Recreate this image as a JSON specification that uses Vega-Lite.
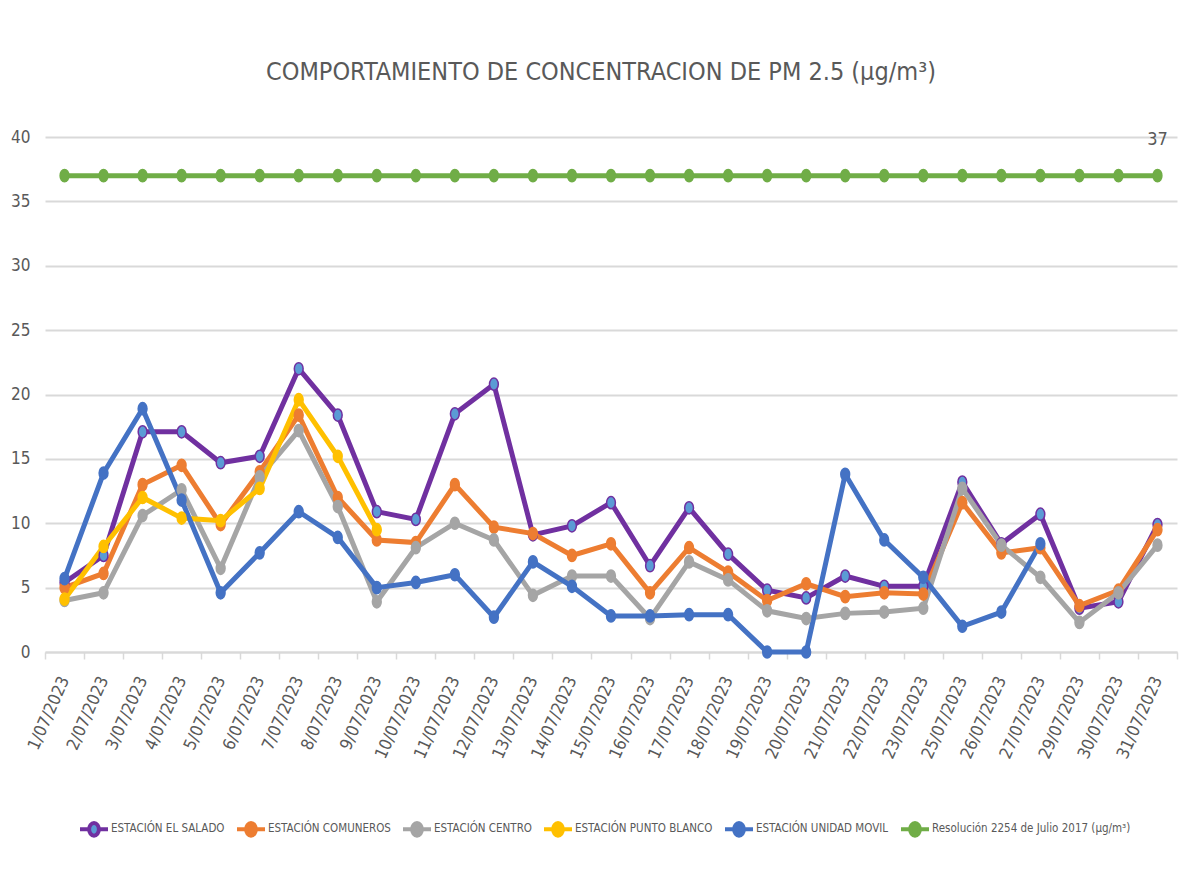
{
  "$schema": "https://vega.github.io/schema/vega-lite/v6.json",
  "width": 1132,
  "height": 515,
  "autosize": {"type": "none"},
  "padding": {"left": 45, "top": 137, "right": 13, "bottom": 227},
  "background": "white",
  "title": {
    "text": "COMPORTAMIENTO DE CONCENTRACION DE PM 2.5 (µg/m³)",
    "font": "Liberation Sans Narrow, DejaVu Sans Condensed, sans-serif",
    "fontSize": 25,
    "fontWeight": "normal",
    "color": "#595959",
    "anchor": "middle",
    "dx": -10,
    "offset": 43
  },
  "config": {
    "view": {"stroke": null},
    "font": "Liberation Sans Narrow, DejaVu Sans Condensed, sans-serif"
  },
  "data": {
    "values": [
      {"fecha": "1/07/2023", "serie": "ESTACIÓN EL SALADO", "valor": 5.4},
      {"fecha": "2/07/2023", "serie": "ESTACIÓN EL SALADO", "valor": 7.5},
      {"fecha": "3/07/2023", "serie": "ESTACIÓN EL SALADO", "valor": 17.1},
      {"fecha": "4/07/2023", "serie": "ESTACIÓN EL SALADO", "valor": 17.1},
      {"fecha": "5/07/2023", "serie": "ESTACIÓN EL SALADO", "valor": 14.7},
      {"fecha": "6/07/2023", "serie": "ESTACIÓN EL SALADO", "valor": 15.2},
      {"fecha": "7/07/2023", "serie": "ESTACIÓN EL SALADO", "valor": 22.0},
      {"fecha": "8/07/2023", "serie": "ESTACIÓN EL SALADO", "valor": 18.4},
      {"fecha": "9/07/2023", "serie": "ESTACIÓN EL SALADO", "valor": 10.9},
      {"fecha": "10/07/2023", "serie": "ESTACIÓN EL SALADO", "valor": 10.3},
      {"fecha": "11/07/2023", "serie": "ESTACIÓN EL SALADO", "valor": 18.5},
      {"fecha": "12/07/2023", "serie": "ESTACIÓN EL SALADO", "valor": 20.8},
      {"fecha": "13/07/2023", "serie": "ESTACIÓN EL SALADO", "valor": 9.1},
      {"fecha": "14/07/2023", "serie": "ESTACIÓN EL SALADO", "valor": 9.8},
      {"fecha": "15/07/2023", "serie": "ESTACIÓN EL SALADO", "valor": 11.6},
      {"fecha": "16/07/2023", "serie": "ESTACIÓN EL SALADO", "valor": 6.7},
      {"fecha": "17/07/2023", "serie": "ESTACIÓN EL SALADO", "valor": 11.2},
      {"fecha": "18/07/2023", "serie": "ESTACIÓN EL SALADO", "valor": 7.6},
      {"fecha": "19/07/2023", "serie": "ESTACIÓN EL SALADO", "valor": 4.8},
      {"fecha": "20/07/2023", "serie": "ESTACIÓN EL SALADO", "valor": 4.2},
      {"fecha": "21/07/2023", "serie": "ESTACIÓN EL SALADO", "valor": 5.9},
      {"fecha": "22/07/2023", "serie": "ESTACIÓN EL SALADO", "valor": 5.1},
      {"fecha": "23/07/2023", "serie": "ESTACIÓN EL SALADO", "valor": 5.1},
      {"fecha": "25/07/2023", "serie": "ESTACIÓN EL SALADO", "valor": 13.2},
      {"fecha": "26/07/2023", "serie": "ESTACIÓN EL SALADO", "valor": 8.4},
      {"fecha": "27/07/2023", "serie": "ESTACIÓN EL SALADO", "valor": 10.7},
      {"fecha": "29/07/2023", "serie": "ESTACIÓN EL SALADO", "valor": 3.4},
      {"fecha": "30/07/2023", "serie": "ESTACIÓN EL SALADO", "valor": 3.9},
      {"fecha": "31/07/2023", "serie": "ESTACIÓN EL SALADO", "valor": 9.9},

      {"fecha": "1/07/2023", "serie": "ESTACIÓN COMUNEROS", "valor": 5.0},
      {"fecha": "2/07/2023", "serie": "ESTACIÓN COMUNEROS", "valor": 6.1},
      {"fecha": "3/07/2023", "serie": "ESTACIÓN COMUNEROS", "valor": 13.0},
      {"fecha": "4/07/2023", "serie": "ESTACIÓN COMUNEROS", "valor": 14.5},
      {"fecha": "5/07/2023", "serie": "ESTACIÓN COMUNEROS", "valor": 9.9},
      {"fecha": "6/07/2023", "serie": "ESTACIÓN COMUNEROS", "valor": 14.0},
      {"fecha": "7/07/2023", "serie": "ESTACIÓN COMUNEROS", "valor": 18.4},
      {"fecha": "8/07/2023", "serie": "ESTACIÓN COMUNEROS", "valor": 12.0},
      {"fecha": "9/07/2023", "serie": "ESTACIÓN COMUNEROS", "valor": 8.7},
      {"fecha": "10/07/2023", "serie": "ESTACIÓN COMUNEROS", "valor": 8.5},
      {"fecha": "11/07/2023", "serie": "ESTACIÓN COMUNEROS", "valor": 13.0},
      {"fecha": "12/07/2023", "serie": "ESTACIÓN COMUNEROS", "valor": 9.7},
      {"fecha": "13/07/2023", "serie": "ESTACIÓN COMUNEROS", "valor": 9.2},
      {"fecha": "14/07/2023", "serie": "ESTACIÓN COMUNEROS", "valor": 7.5},
      {"fecha": "15/07/2023", "serie": "ESTACIÓN COMUNEROS", "valor": 8.4},
      {"fecha": "16/07/2023", "serie": "ESTACIÓN COMUNEROS", "valor": 4.6},
      {"fecha": "17/07/2023", "serie": "ESTACIÓN COMUNEROS", "valor": 8.1},
      {"fecha": "18/07/2023", "serie": "ESTACIÓN COMUNEROS", "valor": 6.2},
      {"fecha": "19/07/2023", "serie": "ESTACIÓN COMUNEROS", "valor": 4.0},
      {"fecha": "20/07/2023", "serie": "ESTACIÓN COMUNEROS", "valor": 5.3},
      {"fecha": "21/07/2023", "serie": "ESTACIÓN COMUNEROS", "valor": 4.3},
      {"fecha": "22/07/2023", "serie": "ESTACIÓN COMUNEROS", "valor": 4.6},
      {"fecha": "23/07/2023", "serie": "ESTACIÓN COMUNEROS", "valor": 4.5},
      {"fecha": "25/07/2023", "serie": "ESTACIÓN COMUNEROS", "valor": 11.6},
      {"fecha": "26/07/2023", "serie": "ESTACIÓN COMUNEROS", "valor": 7.7},
      {"fecha": "27/07/2023", "serie": "ESTACIÓN COMUNEROS", "valor": 8.1},
      {"fecha": "29/07/2023", "serie": "ESTACIÓN COMUNEROS", "valor": 3.6},
      {"fecha": "30/07/2023", "serie": "ESTACIÓN COMUNEROS", "valor": 4.8},
      {"fecha": "31/07/2023", "serie": "ESTACIÓN COMUNEROS", "valor": 9.5},

      {"fecha": "1/07/2023", "serie": "ESTACIÓN CENTRO", "valor": 4.0},
      {"fecha": "2/07/2023", "serie": "ESTACIÓN CENTRO", "valor": 4.6},
      {"fecha": "3/07/2023", "serie": "ESTACIÓN CENTRO", "valor": 10.6},
      {"fecha": "4/07/2023", "serie": "ESTACIÓN CENTRO", "valor": 12.6},
      {"fecha": "5/07/2023", "serie": "ESTACIÓN CENTRO", "valor": 6.5},
      {"fecha": "6/07/2023", "serie": "ESTACIÓN CENTRO", "valor": 13.6},
      {"fecha": "7/07/2023", "serie": "ESTACIÓN CENTRO", "valor": 17.2},
      {"fecha": "8/07/2023", "serie": "ESTACIÓN CENTRO", "valor": 11.3},
      {"fecha": "9/07/2023", "serie": "ESTACIÓN CENTRO", "valor": 3.9},
      {"fecha": "10/07/2023", "serie": "ESTACIÓN CENTRO", "valor": 8.1},
      {"fecha": "11/07/2023", "serie": "ESTACIÓN CENTRO", "valor": 10.0},
      {"fecha": "12/07/2023", "serie": "ESTACIÓN CENTRO", "valor": 8.7},
      {"fecha": "13/07/2023", "serie": "ESTACIÓN CENTRO", "valor": 4.4},
      {"fecha": "14/07/2023", "serie": "ESTACIÓN CENTRO", "valor": 5.9},
      {"fecha": "15/07/2023", "serie": "ESTACIÓN CENTRO", "valor": 5.9},
      {"fecha": "16/07/2023", "serie": "ESTACIÓN CENTRO", "valor": 2.6},
      {"fecha": "17/07/2023", "serie": "ESTACIÓN CENTRO", "valor": 7.0},
      {"fecha": "18/07/2023", "serie": "ESTACIÓN CENTRO", "valor": 5.6},
      {"fecha": "19/07/2023", "serie": "ESTACIÓN CENTRO", "valor": 3.2},
      {"fecha": "20/07/2023", "serie": "ESTACIÓN CENTRO", "valor": 2.6},
      {"fecha": "21/07/2023", "serie": "ESTACIÓN CENTRO", "valor": 3.0},
      {"fecha": "22/07/2023", "serie": "ESTACIÓN CENTRO", "valor": 3.1},
      {"fecha": "23/07/2023", "serie": "ESTACIÓN CENTRO", "valor": 3.4},
      {"fecha": "25/07/2023", "serie": "ESTACIÓN CENTRO", "valor": 12.7},
      {"fecha": "26/07/2023", "serie": "ESTACIÓN CENTRO", "valor": 8.3},
      {"fecha": "27/07/2023", "serie": "ESTACIÓN CENTRO", "valor": 5.8},
      {"fecha": "29/07/2023", "serie": "ESTACIÓN CENTRO", "valor": 2.3},
      {"fecha": "30/07/2023", "serie": "ESTACIÓN CENTRO", "valor": 4.6},
      {"fecha": "31/07/2023", "serie": "ESTACIÓN CENTRO", "valor": 8.3},

      {"fecha": "1/07/2023", "serie": "ESTACIÓN PUNTO BLANCO", "valor": 4.1},
      {"fecha": "2/07/2023", "serie": "ESTACIÓN PUNTO BLANCO", "valor": 8.2},
      {"fecha": "3/07/2023", "serie": "ESTACIÓN PUNTO BLANCO", "valor": 12.0},
      {"fecha": "4/07/2023", "serie": "ESTACIÓN PUNTO BLANCO", "valor": 10.4},
      {"fecha": "5/07/2023", "serie": "ESTACIÓN PUNTO BLANCO", "valor": 10.2},
      {"fecha": "6/07/2023", "serie": "ESTACIÓN PUNTO BLANCO", "valor": 12.7},
      {"fecha": "7/07/2023", "serie": "ESTACIÓN PUNTO BLANCO", "valor": 19.6},
      {"fecha": "8/07/2023", "serie": "ESTACIÓN PUNTO BLANCO", "valor": 15.2},
      {"fecha": "9/07/2023", "serie": "ESTACIÓN PUNTO BLANCO", "valor": 9.5},

      {"fecha": "1/07/2023", "serie": "ESTACIÓN UNIDAD MOVIL", "valor": 5.7},
      {"fecha": "2/07/2023", "serie": "ESTACIÓN UNIDAD MOVIL", "valor": 13.9},
      {"fecha": "3/07/2023", "serie": "ESTACIÓN UNIDAD MOVIL", "valor": 18.9},
      {"fecha": "4/07/2023", "serie": "ESTACIÓN UNIDAD MOVIL", "valor": 11.8},
      {"fecha": "5/07/2023", "serie": "ESTACIÓN UNIDAD MOVIL", "valor": 4.6},
      {"fecha": "6/07/2023", "serie": "ESTACIÓN UNIDAD MOVIL", "valor": 7.7},
      {"fecha": "7/07/2023", "serie": "ESTACIÓN UNIDAD MOVIL", "valor": 10.9},
      {"fecha": "8/07/2023", "serie": "ESTACIÓN UNIDAD MOVIL", "valor": 8.9},
      {"fecha": "9/07/2023", "serie": "ESTACIÓN UNIDAD MOVIL", "valor": 5.0},
      {"fecha": "10/07/2023", "serie": "ESTACIÓN UNIDAD MOVIL", "valor": 5.4},
      {"fecha": "11/07/2023", "serie": "ESTACIÓN UNIDAD MOVIL", "valor": 6.0},
      {"fecha": "12/07/2023", "serie": "ESTACIÓN UNIDAD MOVIL", "valor": 2.7},
      {"fecha": "13/07/2023", "serie": "ESTACIÓN UNIDAD MOVIL", "valor": 7.0},
      {"fecha": "14/07/2023", "serie": "ESTACIÓN UNIDAD MOVIL", "valor": 5.1},
      {"fecha": "15/07/2023", "serie": "ESTACIÓN UNIDAD MOVIL", "valor": 2.8},
      {"fecha": "16/07/2023", "serie": "ESTACIÓN UNIDAD MOVIL", "valor": 2.8},
      {"fecha": "17/07/2023", "serie": "ESTACIÓN UNIDAD MOVIL", "valor": 2.9},
      {"fecha": "18/07/2023", "serie": "ESTACIÓN UNIDAD MOVIL", "valor": 2.9},
      {"fecha": "19/07/2023", "serie": "ESTACIÓN UNIDAD MOVIL", "valor": 0.0},
      {"fecha": "20/07/2023", "serie": "ESTACIÓN UNIDAD MOVIL", "valor": 0.0},
      {"fecha": "21/07/2023", "serie": "ESTACIÓN UNIDAD MOVIL", "valor": 13.8},
      {"fecha": "22/07/2023", "serie": "ESTACIÓN UNIDAD MOVIL", "valor": 8.7},
      {"fecha": "23/07/2023", "serie": "ESTACIÓN UNIDAD MOVIL", "valor": 5.8},
      {"fecha": "25/07/2023", "serie": "ESTACIÓN UNIDAD MOVIL", "valor": 2.0},
      {"fecha": "26/07/2023", "serie": "ESTACIÓN UNIDAD MOVIL", "valor": 3.1},
      {"fecha": "27/07/2023", "serie": "ESTACIÓN UNIDAD MOVIL", "valor": 8.4},

      {"fecha": "1/07/2023", "serie": "Resolución 2254 de Julio 2017 (µg/m³)", "valor": 37},
      {"fecha": "2/07/2023", "serie": "Resolución 2254 de Julio 2017 (µg/m³)", "valor": 37},
      {"fecha": "3/07/2023", "serie": "Resolución 2254 de Julio 2017 (µg/m³)", "valor": 37},
      {"fecha": "4/07/2023", "serie": "Resolución 2254 de Julio 2017 (µg/m³)", "valor": 37},
      {"fecha": "5/07/2023", "serie": "Resolución 2254 de Julio 2017 (µg/m³)", "valor": 37},
      {"fecha": "6/07/2023", "serie": "Resolución 2254 de Julio 2017 (µg/m³)", "valor": 37},
      {"fecha": "7/07/2023", "serie": "Resolución 2254 de Julio 2017 (µg/m³)", "valor": 37},
      {"fecha": "8/07/2023", "serie": "Resolución 2254 de Julio 2017 (µg/m³)", "valor": 37},
      {"fecha": "9/07/2023", "serie": "Resolución 2254 de Julio 2017 (µg/m³)", "valor": 37},
      {"fecha": "10/07/2023", "serie": "Resolución 2254 de Julio 2017 (µg/m³)", "valor": 37},
      {"fecha": "11/07/2023", "serie": "Resolución 2254 de Julio 2017 (µg/m³)", "valor": 37},
      {"fecha": "12/07/2023", "serie": "Resolución 2254 de Julio 2017 (µg/m³)", "valor": 37},
      {"fecha": "13/07/2023", "serie": "Resolución 2254 de Julio 2017 (µg/m³)", "valor": 37},
      {"fecha": "14/07/2023", "serie": "Resolución 2254 de Julio 2017 (µg/m³)", "valor": 37},
      {"fecha": "15/07/2023", "serie": "Resolución 2254 de Julio 2017 (µg/m³)", "valor": 37},
      {"fecha": "16/07/2023", "serie": "Resolución 2254 de Julio 2017 (µg/m³)", "valor": 37},
      {"fecha": "17/07/2023", "serie": "Resolución 2254 de Julio 2017 (µg/m³)", "valor": 37},
      {"fecha": "18/07/2023", "serie": "Resolución 2254 de Julio 2017 (µg/m³)", "valor": 37},
      {"fecha": "19/07/2023", "serie": "Resolución 2254 de Julio 2017 (µg/m³)", "valor": 37},
      {"fecha": "20/07/2023", "serie": "Resolución 2254 de Julio 2017 (µg/m³)", "valor": 37},
      {"fecha": "21/07/2023", "serie": "Resolución 2254 de Julio 2017 (µg/m³)", "valor": 37},
      {"fecha": "22/07/2023", "serie": "Resolución 2254 de Julio 2017 (µg/m³)", "valor": 37},
      {"fecha": "23/07/2023", "serie": "Resolución 2254 de Julio 2017 (µg/m³)", "valor": 37},
      {"fecha": "25/07/2023", "serie": "Resolución 2254 de Julio 2017 (µg/m³)", "valor": 37},
      {"fecha": "26/07/2023", "serie": "Resolución 2254 de Julio 2017 (µg/m³)", "valor": 37},
      {"fecha": "27/07/2023", "serie": "Resolución 2254 de Julio 2017 (µg/m³)", "valor": 37},
      {"fecha": "29/07/2023", "serie": "Resolución 2254 de Julio 2017 (µg/m³)", "valor": 37},
      {"fecha": "30/07/2023", "serie": "Resolución 2254 de Julio 2017 (µg/m³)", "valor": 37},
      {"fecha": "31/07/2023", "serie": "Resolución 2254 de Julio 2017 (µg/m³)", "valor": 37}
    ]
  },
  "encoding": {
    "x": {
      "field": "fecha",
      "type": "ordinal",
      "sort": null,
      "scale": {"type": "band", "paddingInner": 0, "paddingOuter": 0},
      "axis": {
        "title": null,
        "grid": false,
        "tickBand": "extent",
        "tickSize": 7,
        "tickColor": "#d9d9d9",
        "tickWidth": 1.5,
        "domainColor": "#d9d9d9",
        "domainWidth": 2,
        "labelAngle": -66,
        "labelAlign": "right",
        "labelBaseline": "middle",
        "labelFontSize": 17,
        "labelColor": "#595959",
        "labelPadding": 18
      }
    },
    "y": {
      "field": "valor",
      "type": "quantitative",
      "scale": {"domain": [0, 40], "nice": false},
      "axis": {
        "title": null,
        "values": [0, 5, 10, 15, 20, 25, 30, 35, 40],
        "domain": false,
        "ticks": false,
        "gridColor": "#d9d9d9",
        "gridWidth": 2,
        "labelFontSize": 17,
        "labelColor": "#595959",
        "labelPadding": 15
      }
    }
  },
  "layer": [
    {
      "mark": {"type": "line", "strokeWidth": 5},
      "encoding": {
        "stroke": {
          "field": "serie",
          "type": "nominal",
          "scale": {
            "domain": ["ESTACIÓN EL SALADO", "ESTACIÓN COMUNEROS", "ESTACIÓN CENTRO", "ESTACIÓN PUNTO BLANCO", "ESTACIÓN UNIDAD MOVIL", "Resolución 2254 de Julio 2017 (µg/m³)"],
            "range": ["#7030A0", "#ED7D31", "#A5A5A5", "#FFC000", "#4472C4", "#70AD47"]
          },
          "legend": {
            "title": null,
            "orient": "none",
            "legendX": 33,
            "legendY": 676,
            "direction": "horizontal",
            "symbolType": "M-1,0L-0.35,0M0.35,0L1,0M0.35,0A0.35,0.45 0 1 1 -0.35,0A0.35,0.45 0 1 1 0.35,0Z",
            "symbolSize": 784,
            "symbolStrokeWidth": 4,
            "labelFontSize": 11.5,
            "labelLimit": 0,
            "labelColor": "#595959",
            "labelOffset": 1,
            "columnPadding": 4
          }
        }
      }
    },
    {
      "mark": {"type": "point", "filled": true, "opacity": 1, "strokeWidth": 1.5, "shape": "M0,-1A0.72,1 0 1,1 0,1A0.72,1 0 1,1 0,-1Z", "size": 150},
      "encoding": {
        "stroke": {"field": "serie", "type": "nominal"},
        "fill": {
          "field": "serie",
          "type": "nominal",
          "scale": {
            "domain": ["ESTACIÓN EL SALADO", "ESTACIÓN COMUNEROS", "ESTACIÓN CENTRO", "ESTACIÓN PUNTO BLANCO", "ESTACIÓN UNIDAD MOVIL", "Resolución 2254 de Julio 2017 (µg/m³)"],
            "range": ["#5B9BD5", "#ED7D31", "#A5A5A5", "#FFC000", "#4472C4", "#70AD47"]
          }
        }
      }
    },
    {
      "transform": [{"filter": "datum.fecha === '31/07/2023' && datum.valor === 37"}],
      "mark": {"type": "text", "dy": -36, "fontSize": 18, "color": "#595959", "align": "center"},
      "encoding": {"text": {"field": "valor", "type": "quantitative"}}
    }
  ]
}
